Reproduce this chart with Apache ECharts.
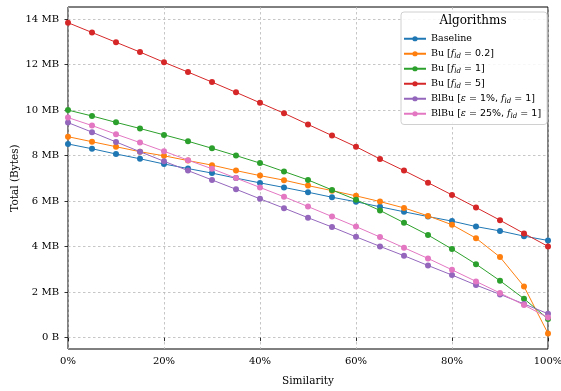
<!DOCTYPE html>
<html>
<head>
<meta charset="utf-8">
<script src="https://cdn.jsdelivr.net/npm/echarts@6/dist/echarts.min.js"></script>
<style>html,body{margin:0;padding:0;background:#fff}#c{width:561px;height:391px}</style>
</head>
<body>
<div id="c"></div>
<script>
var similarity = [0,5,10,15,20,25,30,35,40,45,50,55,60,65,70,75,80,85,90,95,100];
var yTicks = [0,2,4,6,8,10,12,14];
var xTicks = [0,20,40,60,80,100];
var seriesNames = ['Baseline','Bu [fld = 0.2]','Bu [fld = 1]','Bu [fld = 5]','BlBu [ε = 1%, fld = 1]','BlBu [ε = 25%, fld = 1]'];
var seriesColors = ['#1f77b4','#ff7f0e','#2ca02c','#d62728','#9467bd','#e377c2'];
var baseline = [8.51,8.30,8.07,7.86,7.63,7.43,7.23,7.01,6.80,6.60,6.39,6.17,5.97,5.75,5.53,5.32,5.12,4.88,4.69,4.46,4.27];
var bu02 = [8.83,8.61,8.39,8.17,7.99,7.78,7.58,7.34,7.12,6.92,6.68,6.46,6.23,5.98,5.70,5.35,4.96,4.37,3.54,2.25,0.18];
var bu1 = [10.0,9.74,9.46,9.19,8.91,8.63,8.32,8.00,7.67,7.30,6.93,6.49,6.06,5.59,5.05,4.51,3.89,3.23,2.50,1.71,0.82];
var bu5 = [13.84,13.41,12.98,12.55,12.10,11.67,11.23,10.78,10.32,9.86,9.37,8.88,8.39,7.85,7.34,6.81,6.27,5.72,5.16,4.58,4.01];
var blbu1 = [9.45,9.03,8.60,8.17,7.75,7.34,6.93,6.52,6.10,5.69,5.27,4.86,4.43,4.01,3.60,3.17,2.75,2.31,1.90,1.48,1.05];
var blbu25 = [9.67,9.32,8.94,8.57,8.19,7.80,7.42,7.01,6.60,6.19,5.76,5.32,4.88,4.42,3.95,3.48,2.98,2.47,1.96,1.43,0.88];
var allValues = [baseline,bu02,bu1,bu5,blbu1,blbu25];
var legendRich = {
  'Baseline':'Baseline',
  'Bu [fld = 0.2]':'Bu [{it|f}{sub|ld}{m| = 0.2}]',
  'Bu [fld = 1]':'Bu [{it|f}{sub|ld}{m| = 1}]',
  'Bu [fld = 5]':'Bu [{it|f}{sub|ld}{m| = 5}]',
  'BlBu [ε = 1%, fld = 1]':'BlBu [{it|ε}{m| = 1%, }{it|f}{sub|ld}{m| = 1}]',
  'BlBu [ε = 25%, fld = 1]':'BlBu [{it|ε}{m| = 25%, }{it|f}{sub|ld}{m| = 1}]'
};
var serif = 'DejaVu Serif';
var chart = echarts.init(document.getElementById('c'), null, {renderer:'canvas'});
var series = seriesNames.map(function(n, i){
  return {
    name: n, type: 'line',
    data: similarity.map(function(x, j){ return [x, allValues[i][j]]; }),
    symbol: 'circle', symbolSize: 6,
    lineStyle: {width: 1, color: seriesColors[i]},
    itemStyle: {color: seriesColors[i]},
    emphasis: {disabled: true},
    animation: false, z: 3 + i * 0.01
  };
});
chart.setOption({
  animation: false,
  grid: {left: 68, right: 13, top: 7, bottom: 42, show: true, borderColor: '#000', borderWidth: 1, backgroundColor: 'transparent', containLabel: false, outerBoundsMode: 'none'},
  xAxis: {
    type: 'value', min: 0, max: 100, interval: 20,
    name: 'Similarity', nameLocation: 'middle', nameGap: 27, nameMoveOverlap: false,
    nameTextStyle: {fontFamily: serif, fontSize: 10.5, color: '#000'},
    axisLine: {show: false},
    axisTick: {show: true, length: 3.5, inside: false, lineStyle: {color: '#000', width: 0.8}},
    axisLabel: {fontFamily: serif, fontSize: 10, color: '#000', margin: 7, formatter: function(v){ return v + '%'; }},
    splitLine: {show: true, lineStyle: {color: '#b8b8b8', width: 0.8, type: [2.5, 2.5]}}
  },
  yAxis: {
    type: 'value', min: -0.5, max: 14.53,
    name: 'Total (Bytes)', nameLocation: 'middle', nameGap: 47, nameMoveOverlap: false,
    nameTextStyle: {fontFamily: serif, fontSize: 10.5, color: '#000'},
    axisLine: {show: false},
    axisTick: {show: true, length: 3.5, customValues: yTicks, lineStyle: {color: '#000', width: 0.8}},
    axisLabel: {fontFamily: serif, fontSize: 10, color: '#000', margin: 9, customValues: yTicks,
      formatter: function(v){ return v === 0 ? '0 B' : v + ' MB'; }},
    splitLine: {show: true, lineStyle: {color: '#b8b8b8', width: 0.8, type: [2.5, 2.5]}}
  },
  legend: {
    orient: 'vertical', left: 401, top: 12,
    data: seriesNames,
    padding: [20, 6, 4, 2],
    itemWidth: 22, itemHeight: 6.5, itemGap: 1.5,
    backgroundColor: 'rgba(255,255,255,0.85)', borderColor: '#d0d0d0', borderWidth: 1, borderRadius: 3,
    textStyle: {fontFamily: serif, fontSize: 9.5, color: '#000', lineHeight: 13.5,
      rich: {
        it: {fontFamily: serif, fontStyle: 'italic', fontSize: 9.5, lineHeight: 13.5},
        sub: {fontFamily: serif, fontStyle: 'italic', fontSize: 7, lineHeight: 13.5, padding: [5, 0, 0, 0]},
        m: {fontFamily: 'DejaVu Sans', fontSize: 9.5, lineHeight: 13.5}
      }
    },
    formatter: function(n){ return legendRich[n]; },
    selectedMode: false
  },
  graphic: [{
    type: 'text', x: 473, y: 21, z: 100,
    style: {text: 'Algorithms', fontFamily: serif, fontSize: 12, fill: '#000', textAlign: 'center', textVerticalAlign: 'middle'}
  }],
  series: series
});
</script>
</body>
</html>
